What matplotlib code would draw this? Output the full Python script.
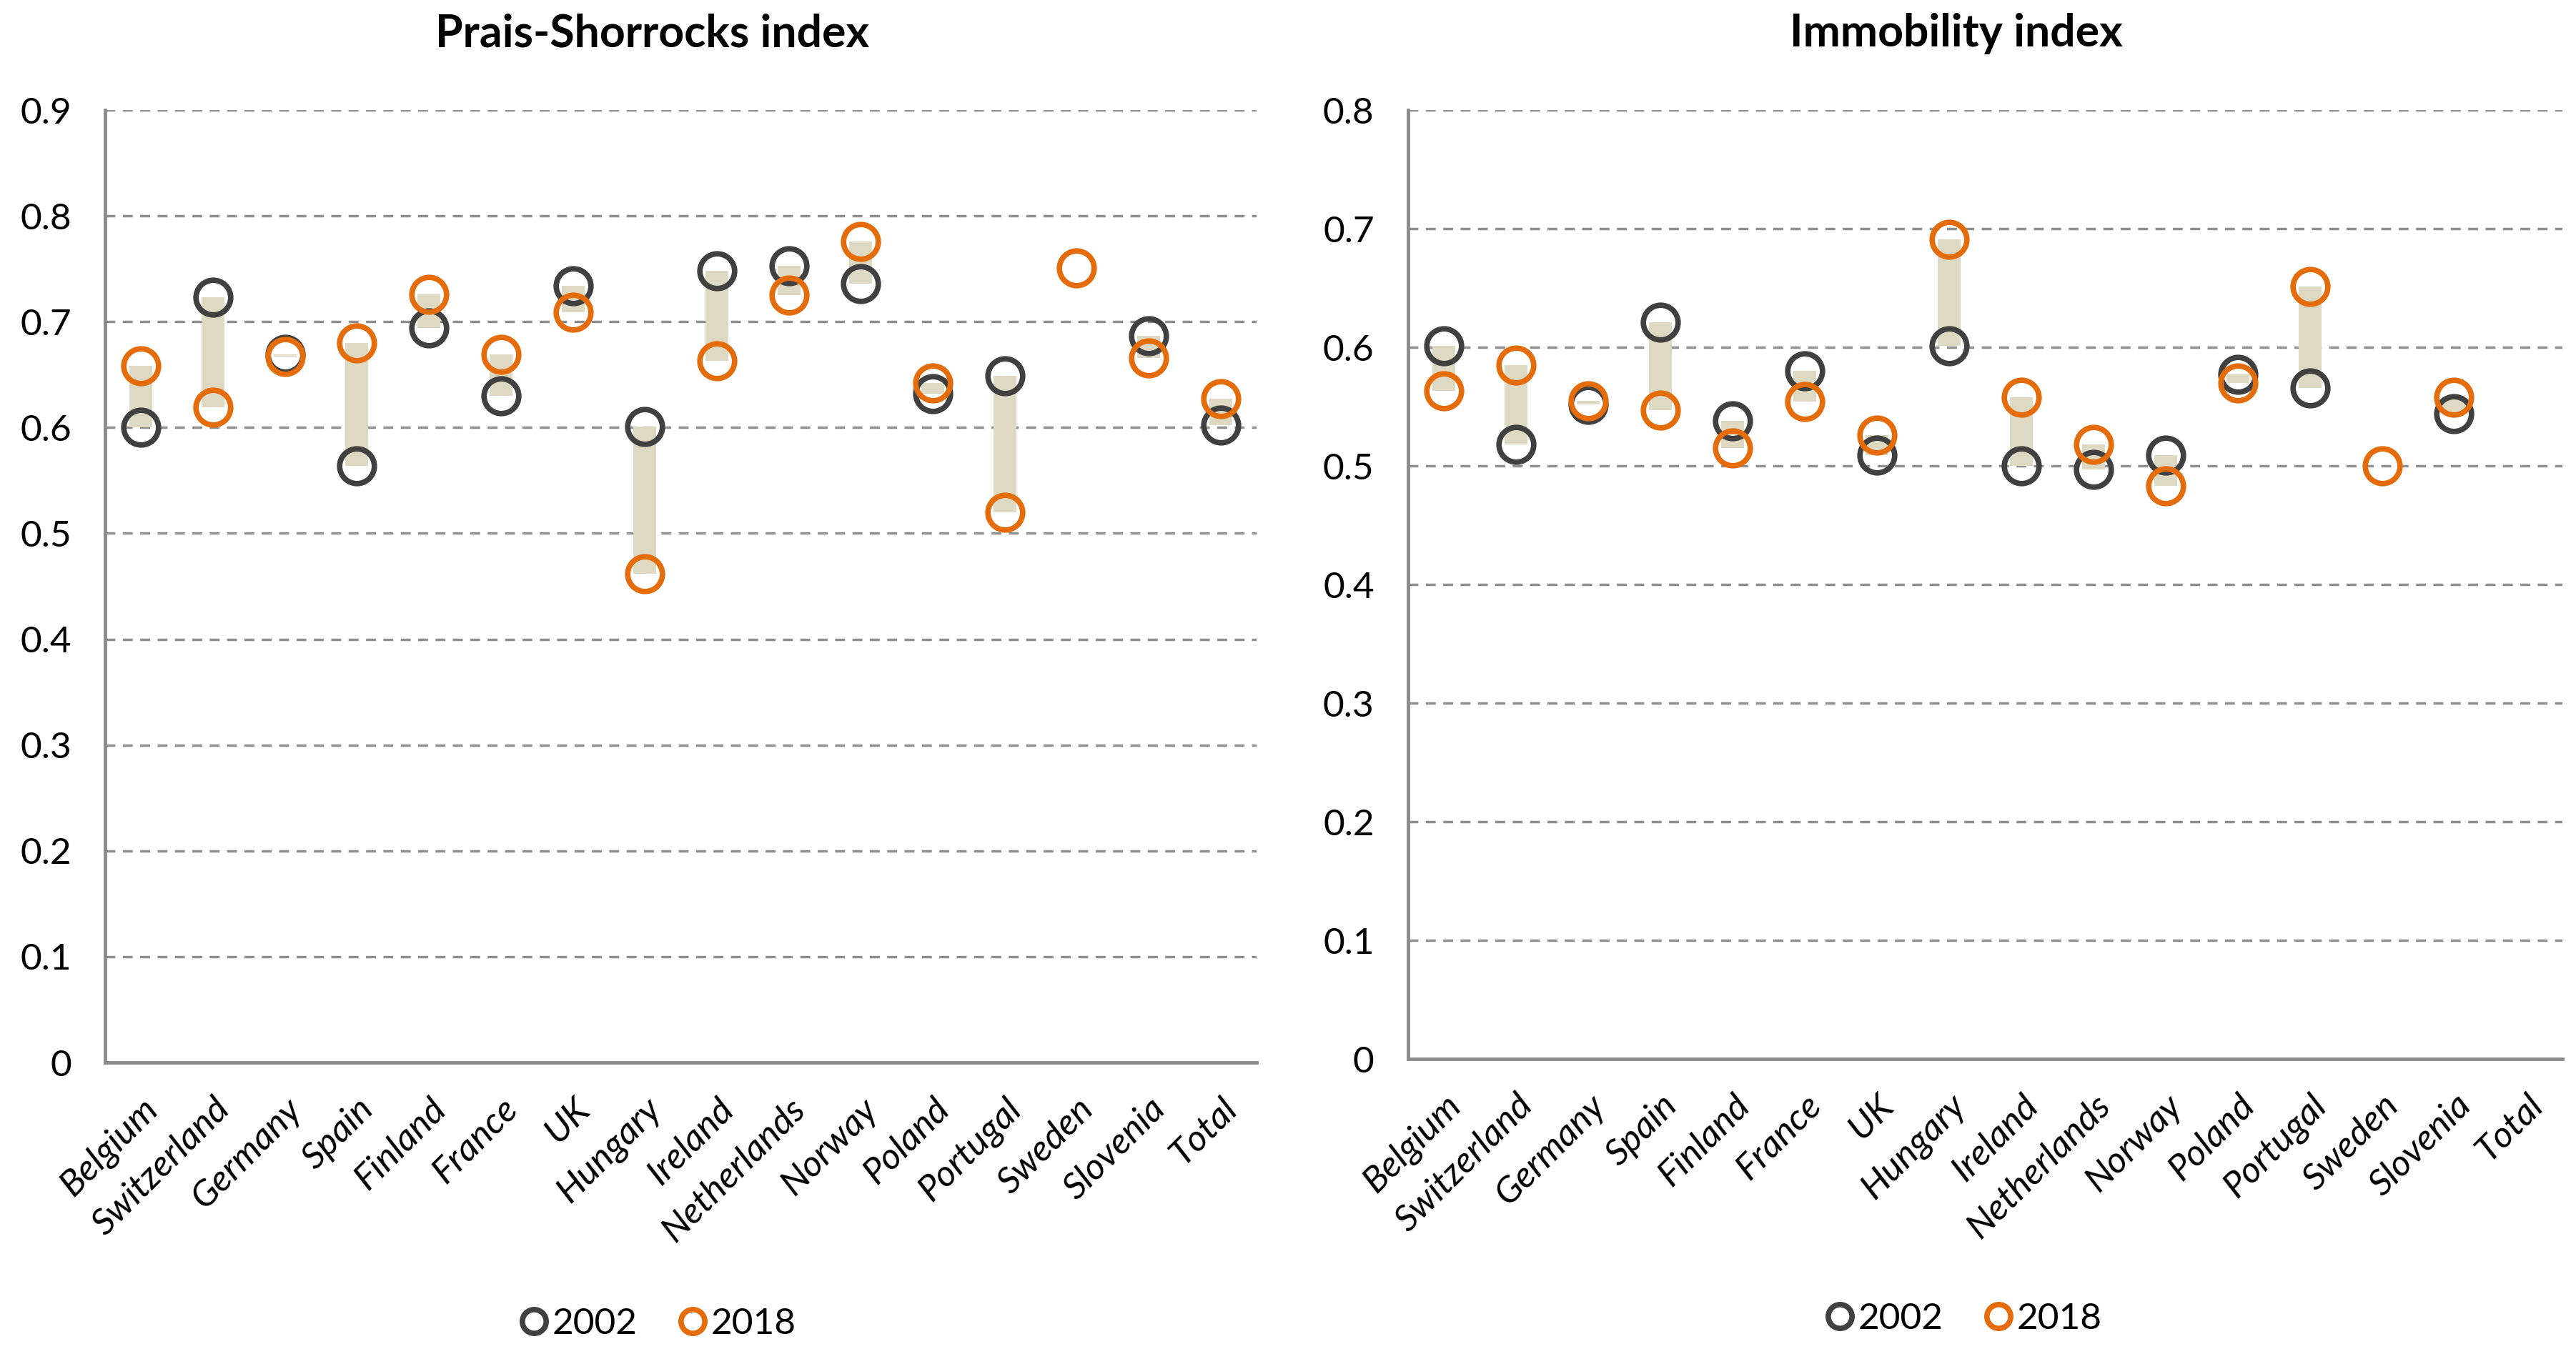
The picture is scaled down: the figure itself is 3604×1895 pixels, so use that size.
import matplotlib.pyplot as plt
from matplotlib.lines import Line2D
import numpy as np

plt.rcParams['font.family'] = ['Lato', 'DejaVu Sans']

countries = ['Belgium', 'Switzerland', 'Germany', 'Spain', 'Finland', 'France', 'UK',
             'Hungary', 'Ireland', 'Netherlands', 'Norway', 'Poland', 'Portugal',
             'Sweden', 'Slovenia', 'Total']

# Prais-Shorrocks index (nan = no value)
ps_2002 = [0.600, 0.723, 0.669, 0.564, 0.694, 0.630, 0.734, 0.601, 0.748, 0.753,
           0.736, 0.632, 0.649, np.nan, 0.687, 0.602]
ps_2018 = [0.658, 0.619, 0.667, 0.680, 0.726, 0.669, 0.709, 0.462, 0.663, 0.725,
           0.776, 0.642, 0.520, 0.751, 0.666, 0.627]

# Immobility index
im_2002 = [0.601, 0.518, 0.552, 0.621, 0.538, 0.580, 0.509, 0.601, 0.500, 0.497,
           0.509, 0.577, 0.566, np.nan, 0.544, np.nan]
im_2018 = [0.563, 0.585, 0.555, 0.547, 0.515, 0.554, 0.526, 0.691, 0.558, 0.518,
           0.483, 0.570, 0.651, 0.500, 0.558, np.nan]

c2002 = '#404040'
c2018 = '#E46C0A'
cbar = '#DDD9C3'
cgrid = '#909090'
cspine = '#8C8C8C'

fig = plt.figure(figsize=(36.04, 18.95), dpi=100)
ax1 = fig.add_axes([0.0408, 0.2153, 0.4470, 0.7034])
ax2 = fig.add_axes([0.5466, 0.2179, 0.4481, 0.7008])


def draw(ax, v1, v2, ymax, title):
    x = np.arange(len(countries))
    v1 = np.array(v1, dtype=float)
    v2 = np.array(v2, dtype=float)
    ok = ~np.isnan(v1) & ~np.isnan(v2)
    ax.vlines(x[ok], v1[ok], v2[ok], color=cbar, linewidth=23, zorder=2)
    ax.plot(x, v1, 'o', ms=35, mfc='none', mec=c2002, mew=5.5, zorder=3)
    ax.plot(x, v2, 'o', ms=35, mfc='none', mec=c2018, mew=5.5, zorder=4)
    ax.set_xlim(-0.5, len(countries) - 0.5)
    ax.set_ylim(0, ymax)
    ticks = np.round(np.arange(0, ymax + 0.001, 0.1), 1)
    ax.set_yticks(ticks)
    ax.set_yticklabels(['0' if t == 0 else f'{t:.1f}' for t in ticks], fontsize=37)
    for t in ticks[1:]:
        ax.axhline(t, color=cgrid, linewidth=2.5, linestyle=(0, (4, 3)), zorder=1)
    ax.set_xticks(x)
    ax.set_xticklabels(countries, rotation=45, ha='right', rotation_mode='anchor',
                       fontsize=37, style='italic')
    ax.tick_params(axis='y', length=0, pad=34)
    ax.tick_params(axis='x', length=0, pad=30)
    for s in ['top', 'right']:
        ax.spines[s].set_visible(False)
    for s in ['left', 'bottom']:
        ax.spines[s].set_color(cspine)
        ax.spines[s].set_linewidth(3.5)
    ax.set_title(title, fontsize=45, fontweight='bold', pad=64, x=0.475)


draw(ax1, ps_2002, ps_2018, 0.9, 'Prais-Shorrocks index')
draw(ax2, im_2002, im_2018, 0.8, 'Immobility index')

handles = [Line2D([], [], marker='o', ls='none', ms=24, mfc='none', mec=c2002, mew=5.5),
           Line2D([], [], marker='o', ls='none', ms=24, mfc='none', mec=c2018, mew=5.5)]
for ax, xc, yc in [(ax1, 0.2545, 0.022), (ax2, 0.7615, 0.026)]:
    fig.legend(handles, ['2002', '2018'], loc='center', bbox_to_anchor=(xc, yc),
               ncol=2, frameon=False, fontsize=37, handletextpad=0.0,
               columnspacing=1.0, handlelength=1.0)

fig.savefig('out.png', dpi=100)
